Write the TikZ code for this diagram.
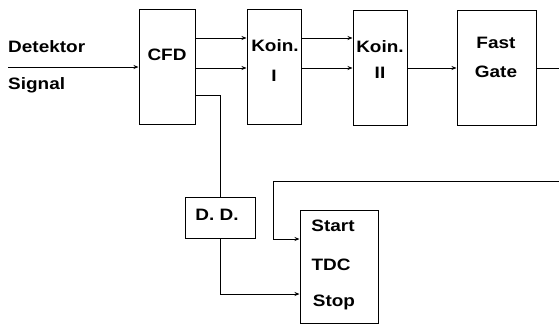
\documentclass[tikz,border=0pt]{standalone}
\usepackage{fontspec}
\setmainfont{Liberation Sans}[FakeStretch=1.15]
\usetikzlibrary{arrows.meta}
\begin{document}
\begin{tikzpicture}[x=1pt,y=-1pt,
  box/.style={draw,line width=1pt,minimum width=#1,inner sep=0pt},
  lbl/.style={font=\fontsize{16.5}{19}\selectfont\bfseries,inner sep=0pt},
  wire/.style={line width=0.8pt},
  arr/.style={wire,-{Stealth[length=5pt,width=4pt]}}]
\useasboundingbox (0,0) rectangle (559,327);
% boxes
\node[box=56pt,minimum height=115pt] (cfd) at (167,66.5) {};
\node[box=54pt,minimum height=115pt] (k1) at (274,66.5) {};
\node[box=54pt,minimum height=115pt] (k2) at (380,67.5) {};
\node[box=79pt,minimum height=115pt] (fg) at (496.5,67.5) {};
\node[box=70pt,minimum height=41pt] (dd) at (220,217.5) {};
\node[box=78pt,minimum height=113pt] (tdc) at (339,266.5) {};
% labels
\node[lbl,anchor=west] (tdet) at (8,47) {Detektor};
\node[lbl,anchor=west] (tsig) at (8,85) {Signal};
\node[lbl] (tcfd) at (167,55) {CFD};
\node[lbl] (tk1a) at (275,46) {Koin.};
\node[lbl] (tk1b) at (274,76) {I};
\node[lbl] (tk2a) at (380,47) {Koin.};
\node[lbl] (tk2b) at (380,73) {II};
\node[lbl] (tfa) at (496,43) {Fast};
\node[lbl] (tfb) at (496,72) {Gate};
\node[lbl] (tdd) at (217,215) {D. D.};
\node[lbl] (tsta) at (333,226) {Start};
\node[lbl] (ttdc) at (331,265) {TDC};
\node[lbl] (tsto) at (334,302) {Stop};
% helper coordinates
\coordinate (in) at (8,67);
\coordinate (ya) at (0,38);
\coordinate (yb) at (0,68);
\coordinate (yc) at (0,95);
\coordinate (out) at (559,68);
\coordinate (st) at (559,181);
\coordinate (stb) at (273,181);
\coordinate (ys) at (0,239);
\coordinate (yp) at (0,294);
% connectors
\draw[arr] (in) -- (cfd.west |- in);
\draw[arr] (cfd.east |- ya) -- (k1.west |- ya);
\draw[arr] (cfd.east |- yb) -- (k1.west |- yb);
\draw[arr] (k1.east |- ya) -- (k2.west |- ya);
\draw[arr] (k1.east |- yb) -- (k2.west |- yb);
\draw[arr] (k2.east |- yb) -- (fg.west |- yb);
\draw[wire] (fg.east |- out) -- (out);
\draw[wire] (cfd.east |- yc) -| (dd.north);
\draw[arr] (dd.south) |- (tdc.west |- yp);
\draw[arr] (st) -- (stb) |- (tdc.west |- ys);
\end{tikzpicture}
\end{document}
